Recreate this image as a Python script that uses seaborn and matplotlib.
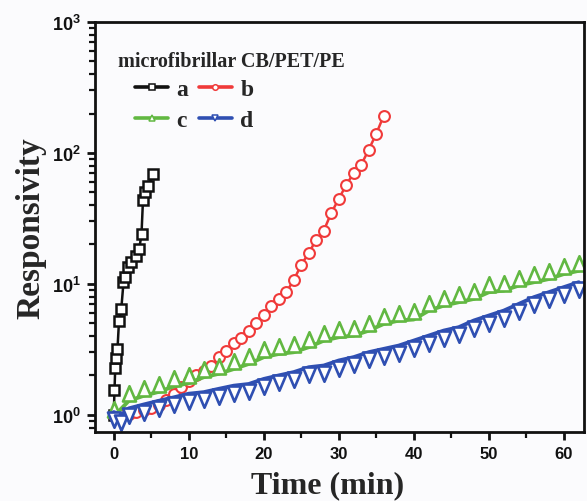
import numpy as np
import pandas as pd
import matplotlib
matplotlib.use("Agg")
import matplotlib.pyplot as plt
import seaborn as sns
from matplotlib.path import Path
from matplotlib.lines import Line2D
from matplotlib.ticker import FixedLocator, FixedFormatter, MultipleLocator, LogLocator, NullFormatter

# ---------------- data ----------------
a_time = [0.0, 0.1, 0.2, 0.3, 0.5, 0.7, 1.0, 1.3, 1.5, 1.9, 2.3, 3.0, 3.4, 3.7, 3.9, 4.2, 4.6, 5.2]
a_resp = [1.0, 1.55, 2.3, 2.7, 3.2, 5.2, 6.4, 10.3, 11.2, 13.4, 14.6, 16.4, 18.5, 24.0, 44.0, 50.0, 56.0, 69.0]

b_time = list(range(0, 37))
b_resp = [1.0, 1.0, 1.02, 1.05, 1.08, 1.12, 1.2, 1.3, 1.45, 1.62, 1.83, 2.0, 2.18, 2.38, 2.76,
          3.10, 3.53, 3.85, 4.35, 5.04, 5.80, 6.76, 7.68, 8.64, 10.7, 14.0, 17.2, 21.8, 25.5,
          34.8, 44.6, 57.0, 70.4, 81.4, 106.0, 140.0, 193.0]

c_time = list(range(0, 63, 2))
c_resp = [0.97, 1.28, 1.40, 1.50, 1.65, 1.75, 1.94, 2.06, 2.24, 2.45, 2.76, 2.92, 3.01, 3.29,
          3.69, 3.92, 4.03, 4.40, 4.95, 5.25, 5.35, 6.25, 6.83, 7.25, 7.68, 8.64, 8.90, 9.72,
          10.3, 10.9, 11.9, 12.6]

d_time = [0, 1] + list(range(2, 63, 2))
d_resp = [1.05, 1.0, 1.12, 1.20, 1.28, 1.36, 1.45, 1.49, 1.58, 1.67, 1.72, 1.88, 2.0, 2.12,
          2.31, 2.38, 2.60, 2.76, 3.01, 3.19, 3.38, 3.69, 4.03, 4.40, 4.67, 5.25, 5.73, 6.25,
          7.03, 7.91, 8.64, 9.44, 10.3]

labels = ["a", "b", "c", "d"]
legend_title = "microfibrillar CB/PET/PE"
x_ticks = [0, 10, 20, 30, 40, 50, 60]
y_ticks = [1, 10, 100, 1000]
y_ticklabels = [r"$10^{0}$", r"$10^{1}$", r"$10^{2}$", r"$10^{3}$"]

# ---------------- style ----------------
sns.set_theme(style="ticks")
plt.rcParams["font.family"] = ["Liberation Sans", "DejaVu Sans"]
plt.rcParams["mathtext.fontset"] = "custom"
plt.rcParams["mathtext.rm"] = "Liberation Sans:bold"
plt.rcParams["mathtext.it"] = "Liberation Sans:bold"
plt.rcParams["mathtext.bf"] = "Liberation Sans:bold"

black = "#111111"
red = "#f03a3a"
green = "#62b842"
blue = "#2f4fb2"
serif_bold = {"family": "Liberation Serif", "weight": "bold"}

# triangles anchored at their base (the line runs along the base, as in the reference)
tri_up = Path([(-0.85, 0), (0.85, 0), (0, 2), (-0.85, 0)],
              [Path.MOVETO, Path.LINETO, Path.LINETO, Path.CLOSEPOLY])
tri_dn = Path([(-0.85, 0), (0.85, 0), (0, -2), (-0.85, 0)],
              [Path.MOVETO, Path.LINETO, Path.LINETO, Path.CLOSEPOLY])

fig = plt.figure(figsize=(5.87, 5.02), dpi=100)
bg = "#fbfbfd"
fig.patch.set_facecolor(bg)
ax = fig.add_axes([95 / 587, 1 - 433 / 502, (584 - 95) / 587, (433 - 23) / 502])
ax.set_facecolor(bg)

series = [
    (a_time, a_resp, black, "s", 7.6, 1.8, 1.8),
    (b_time, b_resp, red, "o", 7.8, 1.5, 1.8),
    (c_time, c_resp, green, tri_up, 22.0, 1.9, 2.8),
    (d_time, d_resp, blue, tri_dn, 22.0, 1.9, 2.8),
]
for t, r, col, mk, ms, mew, lw in series:
    df = pd.DataFrame({"t": t, "r": r})
    sns.lineplot(data=df, x="t", y="r", ax=ax, color=col, marker=mk, markersize=ms,
                 markerfacecolor="white", markeredgecolor=col, markeredgewidth=mew,
                 linewidth=lw, estimator=None, sort=False, legend=False, clip_on=True)

ax.set_yscale("log")
ax.set_xlim(-2.5, 62.7)
ax.set_ylim(0.74, 1000)

ax.xaxis.set_major_locator(FixedLocator(x_ticks))
ax.xaxis.set_minor_locator(MultipleLocator(5))
ax.yaxis.set_major_locator(FixedLocator(y_ticks))
ax.yaxis.set_major_formatter(FixedFormatter(y_ticklabels))
ax.yaxis.set_minor_locator(LogLocator(base=10, subs=np.arange(2, 10)))
ax.yaxis.set_minor_formatter(NullFormatter())

for s in ax.spines.values():
    s.set_linewidth(2.0)
    s.set_color(black)
ax.tick_params(axis="both", which="major", direction="out", length=6, width=2.0,
               colors=black, labelsize=12, pad=4)
ax.tick_params(axis="both", which="minor", direction="out", length=4, width=1.6, colors=black)
ax.tick_params(top=False, right=False, which="both")
for lab in ax.get_xticklabels():
    lab.set_fontweight("bold")
for lab in ax.get_yticklabels():
    lab.set_fontsize(13)

ax.set_xlabel("Time (min)", family=["Liberation Serif"], fontweight="bold", fontsize=23)
ax.set_ylabel("Responsivity", family=["Liberation Serif"], fontweight="bold", fontsize=24)
ax.xaxis.set_label_coords(0.476, -0.093)
ax.yaxis.set_label_coords(-0.10, 0.5)

# legend title as text, entries indented below (rows read a b / c d)
ax.text(0.047, 0.905, legend_title, transform=ax.transAxes, ha="left", va="center",
        fontsize=14.5, **serif_bold)
hs = {
    "a": Line2D([], [], color=black, lw=2.6, marker="s", ms=4.0, mfc="white", mec=black, mew=1.1),
    "b": Line2D([], [], color=red, lw=2.6, marker="o", ms=4.0, mfc="white", mec=red, mew=1.1),
    "c": Line2D([], [], color=green, lw=2.6, marker="^", ms=5.0, mfc="white", mec=green, mew=1.1),
    "d": Line2D([], [], color=blue, lw=2.6, marker="v", ms=5.0, mfc="white", mec=blue, mew=1.1),
}
order = [labels[0], labels[2], labels[1], labels[3]]
leg = ax.legend([hs[k] for k in order], order, ncol=2, loc="upper left",
                bbox_to_anchor=(0.082, 0.862), borderpad=0, borderaxespad=0,
                frameon=False, handlelength=1.4, handletextpad=0.35,
                columnspacing=0.45, labelspacing=0.4,
                prop={"family": "Liberation Serif", "weight": "bold", "size": 17})

fig.savefig("out.png", dpi=100, facecolor=bg)
